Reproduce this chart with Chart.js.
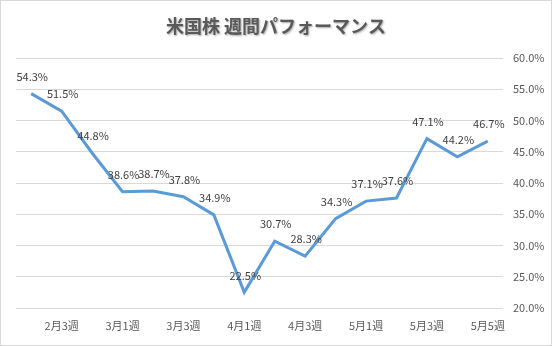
<!DOCTYPE html>
<html>
<head>
<meta charset="utf-8">
<script src="https://cdn.jsdelivr.net/npm/chart.js@4"></script>
<style>
  html, body { margin: 0; padding: 0; background: #fff; }
  #wrap { width: 552px; height: 346px; }
</style>
</head>
<body>
<div id="wrap"><canvas id="chart" width="552" height="346"></canvas></div>
<script>
// --- data -------------------------------------------------------------------
const weeks = ['2月2週', '2月3週', '2月4週', '3月1週', '3月2週', '3月3週', '3月4週', '4月1週',
               '4月2週', '4月3週', '4月4週', '5月1週', '5月2週', '5月3週', '5月4週', '5月5週']
const performance = [54.3, 51.5, 44.8, 38.6, 38.7, 37.8, 34.9, 22.5,
                     30.7, 28.3, 34.3, 37.1, 37.6, 47.1, 44.2, 46.7]
const chartTitle = '米国株 週間パフォーマンス'

const FONT = "'Noto Sans CJK JP', 'Liberation Sans', sans-serif"

// --- plugins ----------------------------------------------------------------
// title with a soft shadow like the Excel original
const titlePlugin = {
    id: 'shadowTitle',
    afterDraw(chart) {
        const ctx = chart.ctx
        ctx.save()
        ctx.font = `bold 18px ${FONT}`
        ctx.textAlign = 'center'
        ctx.textBaseline = 'middle'
        ctx.shadowColor = 'rgba(0,0,0,0.35)'
        ctx.shadowOffsetX = 1
        ctx.shadowOffsetY = 1
        ctx.shadowBlur = 2
        ctx.fillStyle = '#595959'
        ctx.fillText(chartTitle, 276, 26)
        ctx.restore()
    }
}

// value labels above each point
const valueLabels = {
    id: 'valueLabels',
    afterDatasetsDraw(chart) {
        const ctx = chart.ctx
        const meta = chart.getDatasetMeta(0)
        ctx.save()
        ctx.font = `11px ${FONT}`
        ctx.fillStyle = '#404040'
        ctx.textAlign = 'center'
        ctx.textBaseline = 'middle'
        meta.data.forEach((pt, i) => {
            ctx.fillText(performance[i].toFixed(1) + '%', pt.x + 1, pt.y - 17)
        })
        ctx.restore()
    }
}

const borderPlugin = {
    id: 'outerBorder',
    afterDraw(chart) {
        const ctx = chart.ctx
        ctx.save()
        ctx.strokeStyle = '#d9d9d9'
        ctx.lineWidth = 1
        ctx.strokeRect(0.5, 0.5, chart.width - 1, chart.height - 1)
        ctx.restore()
    }
}

// --- chart ------------------------------------------------------------------
new Chart(document.getElementById('chart'), {
    type: 'line',
    data: {
        labels: weeks,
        datasets: [{
            data: performance,
            borderColor: '#5b9bd5',
            borderWidth: 3,
            pointRadius: 0,
            tension: 0,
            fill: false
        }]
    },
    options: {
        responsive: false,
        animation: false,
        layout: { padding: { left: 16, top: 58, right: 0, bottom: 0 } },
        plugins: {
            legend: { display: false },
            tooltip: { enabled: false }
        },
        scales: {
            x: {
                offset: true,
                grid: { display: false, drawTicks: false },
                border: { display: false },
                afterFit(axis) { axis.height = 38 },
                ticks: {
                    autoSkip: false,
                    maxRotation: 0,
                    padding: 11,
                    color: '#595959',
                    font: { family: FONT, size: 11 },
                    callback: function(value, index) {
                        return index % 2 === 1 ? this.getLabelForValue(value) : ''
                    }
                }
            },
            y: {
                position: 'right',
                min: 20,
                max: 60,
                grid: { color: '#d9d9d9', drawTicks: false },
                border: { display: false },
                afterFit(axis) { axis.width = 49 },
                ticks: {
                    stepSize: 5,
                    padding: 10,
                    color: '#595959',
                    font: { family: FONT, size: 11 },
                    callback: v => v.toFixed(1) + '%'
                }
            }
        }
    },
    plugins: [titlePlugin, valueLabels, borderPlugin]
})
</script>
</body>
</html>
